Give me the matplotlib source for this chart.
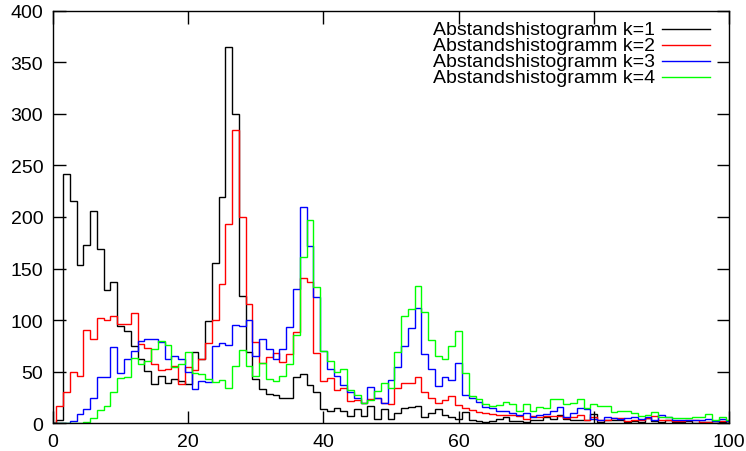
import numpy as np
import matplotlib
matplotlib.use("Agg")
import matplotlib.pyplot as plt

plt.rcParams['font.family'] = ['Liberation Sans', 'DejaVu Sans']

# distance histograms, one value per integer distance 0..100
k1 = [0, 3, 242, 215, 153, 173, 206, 169, 129, 137, 94, 89, 75, 62, 51, 38, 46, 39, 43, 41,
      38, 69, 62, 99, 155, 219, 365, 300, 123, 69, 43, 33, 28, 27, 25, 25, 45, 48, 37, 30,
      14, 12, 15, 12, 7, 14, 7, 17, 4, 14, 4, 10, 15, 16, 17, 6, 10, 14, 8, 6,
      4, 11, 3, 2, 1.5, 2, 4, 6, 2, 2, 1, 3, 3, 6, 4, 8, 4, 3, 3, 3,
      9, 1, 3, 3, 3, 1, 2, 1, 5, 2, 1, 3, 1, 1, 2, 0, 1, 1, 0, 1, 0]
k2 = [0, 17, 30, 50, 46, 90, 82, 102, 100, 104, 96, 96, 107, 77, 73, 57, 52, 53, 56, 38,
      55, 52, 62, 78, 100, 135, 193, 284, 200, 116, 79, 58, 64, 68, 59, 67, 88, 141, 137, 68,
      41, 44, 32, 34, 22, 23, 20, 24, 25, 20, 19, 34, 39, 39, 45, 30, 25, 20, 23, 26,
      18, 15, 13, 11, 10, 9, 8, 8, 8, 7, 4, 7, 6, 7, 7, 7, 5, 6, 8, 3,
      6, 3, 3, 5, 5, 2, 3, 3, 5, 7, 3, 3, 2, 2, 3, 3, 1, 1, 2, 2, 2]
k3 = [0, 0, 0, 2, 9, 14, 25, 45, 45, 74, 49, 62, 70, 80, 82, 82, 79, 62, 65, 62,
      50, 33, 41, 40, 75, 78, 76, 95, 94, 100, 65, 82, 72, 62, 72, 93, 130, 210, 172, 122,
      70, 53, 46, 37, 30, 25, 20, 35, 25, 20, 42, 55, 75, 92, 112, 67, 53, 36, 45, 42,
      58, 27, 25, 21, 16, 15, 12, 12, 10, 8, 10, 6, 8, 9, 12, 16, 6, 10, 15, 14,
      4, 3, 6, 5, 4, 5, 6, 4, 6, 3, 8, 6, 3, 3, 3, 3, 3, 4, 2, 4, 2]
k4 = [0, 0, 0, 0, 0, 1, 5, 13, 17, 30, 44, 45, 63, 57, 60, 72, 80, 76, 55, 57,
      69, 49, 48, 43, 40, 42, 34, 56, 71, 56, 46, 58, 43, 41, 46, 57, 86, 161, 197, 132,
      70, 60, 50, 53, 32, 27, 20, 23, 31, 39, 34, 69, 104, 111, 133, 108, 81, 65, 62, 75,
      89, 49, 26, 24, 19, 17, 18, 21, 19, 12, 19, 12, 16, 15, 24, 24, 19, 20, 24, 15,
      19, 17, 17, 11, 12, 12, 10, 7, 8, 11, 6, 6, 5, 5, 5, 6, 6, 9, 3, 6, 3]
labels = ["Abstandshistogramm k=1", "Abstandshistogramm k=2",
          "Abstandshistogramm k=3", "Abstandshistogramm k=4"]
colors = ["#000000", "#ff0000", "#0000ff", "#00ff00"]

edges = np.arange(len(k1) + 1) - 0.5

fig = plt.figure(figsize=(7.46, 4.52), dpi=100)
ax = fig.add_axes([53 / 746, 27.7 / 452, 676 / 746, 412.8 / 452])

for vals, col in zip([k1, k2, k3, k4], colors):
    ax.stairs(vals, edges, baseline=None, color=col, lw=1.0)

ax.set_xlim(0, 100)
ax.set_ylim(0, 400)
ax.set_xticks(range(0, 101, 20))
ax.set_yticks(range(0, 401, 50))
ax.tick_params(direction='in', length=9, width=1, top=True, right=True,
               labelsize=14, pad=7)
for s in ax.spines.values():
    s.set_linewidth(1.0)

# gnuplot style key: text right aligned, sample line to its right
rows = [0.955, 0.916, 0.877, 0.838]
for lab, col, y in zip(labels, colors, rows):
    ax.text(0.8905, y, lab, transform=ax.transAxes, ha='right', va='center',
            fontsize=14)
    ax.plot([0.901, 0.972], [y, y], transform=ax.transAxes, color=col, lw=1.0)

fig.savefig("out.png", dpi=100)
